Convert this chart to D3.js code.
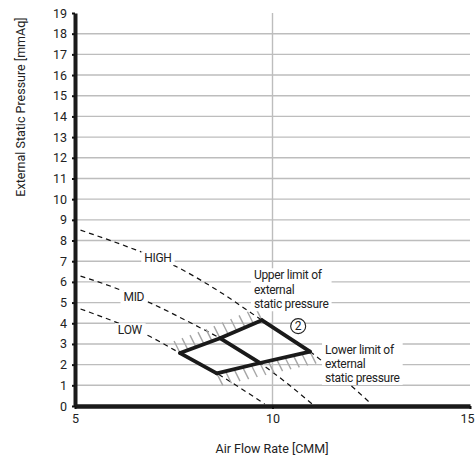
<!DOCTYPE html>
<html><head><meta charset="utf-8">
<script src="https://cdn.jsdelivr.net/npm/d3@7"></script>
<style>
html,body{margin:0;padding:0;background:#fff;}
svg{display:block;font-family:Roboto,"Noto Sans",sans-serif;}
</style></head>
<body>
<svg id="c" width="475" height="461"></svg>
<script>
// ---- data ----
const xTicks = [5, 10, 15];
const yTicks = [0,1,2,3,4,5,6,7,8,9,10,11,12,13,14,15,16,17,18,19];
const xTitle = "Air Flow Rate [CMM]";
const yTitle = "External Static Pressure [mmAq]";

const highX = [5.14, 6.3, 7.5, 8.6, 9.73, 10.95, 11.8, 12.5];
const highY = [8.5, 7.72, 6.8, 5.6, 4.15, 2.63, 1.3, 0.1];
const midX  = [5.14, 6.0, 7.0, 8.0, 8.67, 9.68, 10.4, 11.0];
const midY  = [6.28, 5.72, 4.9, 3.95, 3.28, 2.08, 1.05, 0.1];
const lowX  = [5.14, 6.0, 6.8, 7.66, 8.59, 9.2, 9.8];
const lowY  = [4.69, 4.08, 3.45, 2.56, 1.58, 0.85, 0.1];

// operating range vertices (on the fan curves)
const upperLimitX = [7.66, 8.67, 9.73];
const upperLimitY = [2.56, 3.28, 4.15];
const lowerLimitX = [8.59, 9.68, 10.95];
const lowerLimitY = [1.58, 2.08, 2.63];

const curveNames = ["HIGH", "MID", "LOW"];
const upperLabel = ["Upper limit of", "external", "static pressure"];
const lowerLabel = ["Lower limit of", "external", "static pressure"];
const circledNote = "2";

// ---- layout ----
const svg = d3.select("#c");
const x = d3.scaleLinear().domain([5, 15]).range([75, 470]);
const y = d3.scaleLinear().domain([0, 19]).range([406, 13]);
const zip = (a, b) => a.map((v, i) => [v, b[i]]);

// grid
const g = svg.append("g");
g.selectAll("line.h").data(yTicks.filter(d => d > 0 && d < 19)).join("line")
  .attr("x1", x(5)).attr("x2", x(15)).attr("y1", d => y(d)).attr("y2", d => y(d))
  .attr("stroke", "#bdbdbd").attr("stroke-width", 1.4);
g.append("line").attr("x1", x(10)).attr("x2", x(10)).attr("y1", y(19)).attr("y2", y(0))
  .attr("stroke", "#bdbdbd").attr("stroke-width", 1.4);

// fan curves (dashed)
const line = d3.line().x(d => x(d[0])).y(d => y(d[1])).curve(d3.curveMonotoneX);
[[highX, highY], [midX, midY], [lowX, lowY]].forEach(([a, b]) => {
  svg.append("path").attr("d", line(zip(a, b))).attr("fill", "none")
    .attr("stroke", "#111").attr("stroke-width", 1.2).attr("stroke-dasharray", "5,4");
});

// hatching
function hatch(xs, ys, dx, dy) {
  const pts = zip(xs, ys).map(p => [x(p[0]), y(p[1])]);
  const out = [];
  for (let i = 0; i < pts.length - 1; i++) {
    const [x0, y0] = pts[i], [x1, y1] = pts[i + 1];
    const len = Math.hypot(x1 - x0, y1 - y0);
    const n = Math.floor(len / 8.2);
    for (let k = 0; k <= n; k++) {
      const t = Math.min(k / (n + 0.0001), 1);
      if (i > 0 && k === 0) continue;
      out.push([x0 + (x1 - x0) * t, y0 + (y1 - y0) * t]);
    }
  }
  svg.append("g").selectAll("line").data(out).join("line")
    .attr("x1", d => d[0]).attr("y1", d => d[1])
    .attr("x2", d => d[0] + dx).attr("y2", d => d[1] + dy)
    .attr("stroke", "#a6a6a6").attr("stroke-width", 1.4);
}
hatch(upperLimitX, upperLimitY, -6, -12);
hatch(lowerLimitX, lowerLimitY, 6, 12);

// thick operating range lines
const straight = d3.line().x(d => x(d[0])).y(d => y(d[1]));
const thick = (pts) => svg.append("path").attr("d", straight(pts)).attr("fill", "none")
  .attr("stroke", "#1a1a1a").attr("stroke-width", 3.8).attr("stroke-linejoin", "miter").attr("stroke-linecap", "round");
thick(zip(upperLimitX, upperLimitY));
thick(zip(lowerLimitX, lowerLimitY));
thick([[upperLimitX[0], upperLimitY[0]], [lowerLimitX[0], lowerLimitY[0]]]);
thick([[upperLimitX[1], upperLimitY[1]], [lowerLimitX[1], lowerLimitY[1]]]);
thick([[upperLimitX[2], upperLimitY[2]], [lowerLimitX[2], lowerLimitY[2]]]);

// labels with white boxes
function boxedText(lines, px, py, anchor, fs, lh) {
  const gg = svg.append("g");
  const rect = gg.append("rect").attr("fill", "#fff");
  const t = gg.append("text").attr("font-size", fs).attr("fill", "#222")
    .attr("text-anchor", anchor).attr("letter-spacing", "-0.3px");
  lines.forEach((s, i) => t.append("tspan").attr("x", px).attr("y", py + i * lh).attr("dy", "0.35em").text(s));
  const bb = t.node().getBBox();
  rect.attr("x", bb.x - 3).attr("y", bb.y).attr("width", bb.width + 6).attr("height", bb.height);
}
boxedText([curveNames[0]], x(7.1), y(7.15), "middle", 12, 14);
boxedText([curveNames[1]], x(6.49), y(5.27), "middle", 12, 14);
boxedText([curveNames[2]], x(6.39), y(3.67), "middle", 12, 14);
boxedText(upperLabel, x(9.53), y(6.33), "start", 12, 14.5);
boxedText(lowerLabel, x(11.33), y(2.72), "start", 12, 14);

// circled note
svg.append("circle").attr("cx", x(10.65)).attr("cy", y(3.86)).attr("r", 7.5)
  .attr("fill", "#fff").attr("stroke", "#222").attr("stroke-width", 1.1);
svg.append("text").attr("x", x(10.65)).attr("y", y(3.86)).attr("dy", "0.36em")
  .attr("text-anchor", "middle").attr("font-size", 12).attr("fill", "#222").text(circledNote);

// axes
const ax = svg.append("g").attr("transform", `translate(0,${y(0)})`)
  .call(d3.axisBottom(x).tickValues(xTicks).tickSize(3).tickSizeOuter(0).tickPadding(5).tickFormat(d3.format("d")));
const ay = svg.append("g").attr("transform", `translate(${x(5)},0)`)
  .call(d3.axisLeft(y).tickValues(yTicks).tickSize(3).tickSizeOuter(0).tickPadding(5).tickFormat(d3.format("d")));
[ax, ay].forEach(a => {
  a.selectAll("text").attr("font-size", 12.5).attr("fill", "#222").attr("font-family", "Roboto,'Noto Sans',sans-serif");
  a.selectAll(".tick line").attr("stroke", "#111").attr("stroke-width", 2);
});
// keep the last x label inside the page
ax.selectAll(".tick text").filter(d => d === 15).attr("text-anchor", "end").attr("dx", "4");
ax.select(".domain").attr("stroke", "#1a1a1a").attr("stroke-width", 4.5);
ay.select(".domain").attr("stroke", "#1a1a1a").attr("stroke-width", 4);

// titles
svg.append("text").attr("x", 272).attr("y", 449).attr("dy", "0.35em").attr("text-anchor", "middle")
  .attr("font-size", 12.5).attr("fill", "#222").text(xTitle);
svg.append("text").attr("transform", "translate(21,107) rotate(-90)").attr("dy", "0.35em")
  .attr("text-anchor", "middle").attr("font-size", 12.5).attr("fill", "#222").text(yTitle);
</script>
</body></html>
